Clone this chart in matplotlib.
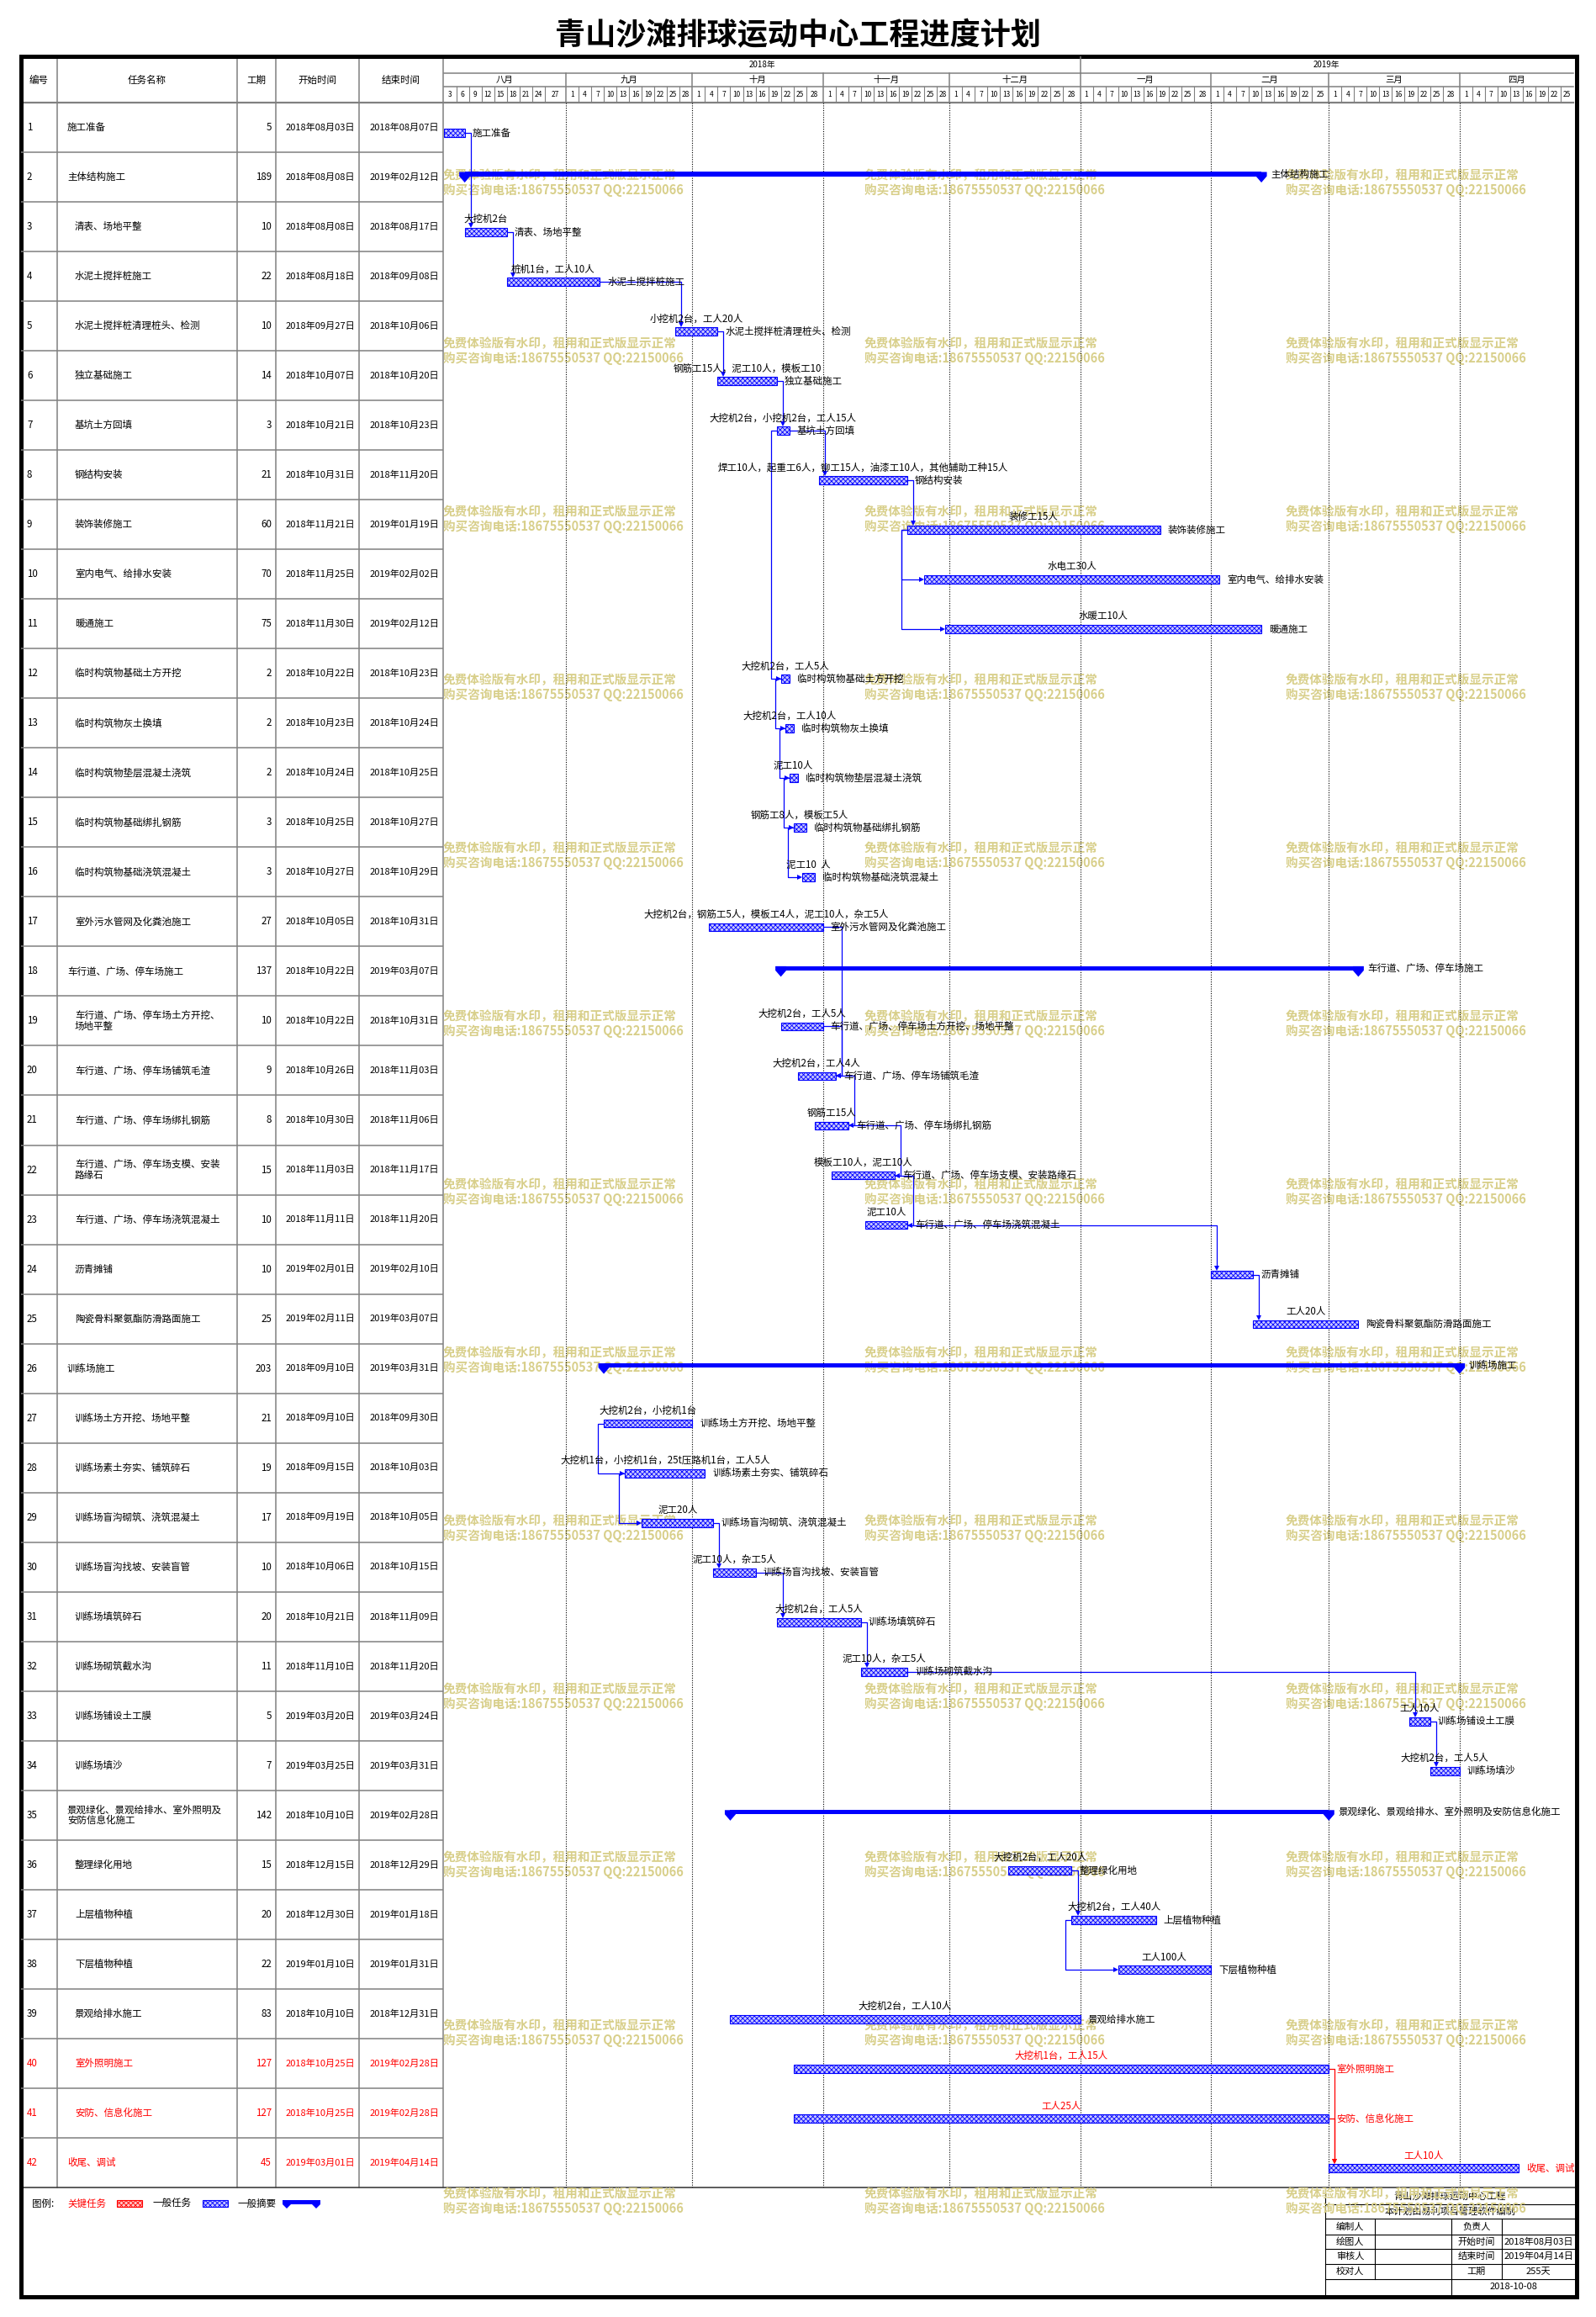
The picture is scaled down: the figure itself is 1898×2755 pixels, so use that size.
import datetime as dt
import calendar
import matplotlib
matplotlib.use("Agg")
import matplotlib.pyplot as plt
import matplotlib.dates as mdates
from matplotlib.patches import Rectangle, Polygon

plt.rcParams["font.family"] = ["Noto Sans CJK SC", "DejaVu Sans"]
plt.rcParams["hatch.linewidth"] = 0.6

W, H, DPI = 1899, 2755, 100

# ---------------- data ----------------
title = "青山沙滩排球运动中心工程进度计划"

task_names = [
    "施工准备", "主体结构施工", "清表、场地平整", "水泥土搅拌桩施工",
    "水泥土搅拌桩清理桩头、检测", "独立基础施工", "基坑土方回填", "钢结构安装",
    "装饰装修施工", "室内电气、给排水安装", "暖通施工", "临时构筑物基础土方开挖",
    "临时构筑物灰土换填", "临时构筑物垫层混凝土浇筑", "临时构筑物基础绑扎钢筋",
    "临时构筑物基础浇筑混凝土", "室外污水管网及化粪池施工", "车行道、广场、停车场施工",
    "车行道、广场、停车场土方开挖、\n场地平整", "车行道、广场、停车场铺筑毛渣",
    "车行道、广场、停车场绑扎钢筋", "车行道、广场、停车场支模、安装\n路缘石",
    "车行道、广场、停车场浇筑混凝土", "沥青摊铺", "陶瓷骨料聚氨酯防滑路面施工",
    "训练场施工", "训练场土方开挖、场地平整", "训练场素土夯实、铺筑碎石",
    "训练场盲沟砌筑、浇筑混凝土", "训练场盲沟找坡、安装盲管", "训练场填筑碎石",
    "训练场砌筑截水沟", "训练场铺设土工膜", "训练场填沙",
    "景观绿化、景观给排水、室外照明及\n安防信息化施工", "整理绿化用地", "上层植物种植",
    "下层植物种植", "景观给排水施工", "室外照明施工", "安防、信息化施工", "收尾、调试",
]

durations = [5, 189, 10, 22, 10, 14, 3, 21, 60, 70, 75, 2, 2, 2, 3, 3, 27, 137, 10, 9, 8,
             15, 10, 10, 25, 203, 21, 19, 17, 10, 20, 11, 5, 7, 142, 15, 20, 22, 83, 127,
             127, 45]

starts = ["2018-08-03", "2018-08-08", "2018-08-08", "2018-08-18", "2018-09-27",
          "2018-10-07", "2018-10-21", "2018-10-31", "2018-11-21", "2018-11-25",
          "2018-11-30", "2018-10-22", "2018-10-23", "2018-10-24", "2018-10-25",
          "2018-10-27", "2018-10-05", "2018-10-22", "2018-10-22", "2018-10-26",
          "2018-10-30", "2018-11-03", "2018-11-11", "2019-02-01", "2019-02-11",
          "2018-09-10", "2018-09-10", "2018-09-15", "2018-09-19", "2018-10-06",
          "2018-10-21", "2018-11-10", "2019-03-20", "2019-03-25", "2018-10-10",
          "2018-12-15", "2018-12-30", "2019-01-10", "2018-10-10", "2018-10-25",
          "2018-10-25", "2019-03-01"]

ends = ["2018-08-07", "2019-02-12", "2018-08-17", "2018-09-08", "2018-10-06",
        "2018-10-20", "2018-10-23", "2018-11-20", "2019-01-19", "2019-02-02",
        "2019-02-12", "2018-10-23", "2018-10-24", "2018-10-25", "2018-10-27",
        "2018-10-29", "2018-10-31", "2019-03-07", "2018-10-31", "2018-11-03",
        "2018-11-06", "2018-11-17", "2018-11-20", "2019-02-10", "2019-03-07",
        "2019-03-31", "2018-09-30", "2018-10-03", "2018-10-05", "2018-10-15",
        "2018-11-09", "2018-11-20", "2019-03-24", "2019-03-31", "2019-02-28",
        "2018-12-29", "2019-01-18", "2019-01-31", "2018-12-31", "2019-02-28",
        "2019-02-28", "2019-04-14"]

resources = ["", "", "大挖机2台", "桩机1台，工人10人", "小挖机2台，工人20人",
             "钢筋工15人，泥工10人，模板工10", "大挖机2台，小挖机2台，工人15人",
             "焊工10人，起重工6人，铆工15人，油漆工10人，其他辅助工种15人",
             "装修工15人", "水电工30人", "水暖工10人", "大挖机2台，工人5人",
             "大挖机2台，工人10人", "泥工10人", "钢筋工8人，模板工5人", "泥工10  人",
             "大挖机2台，钢筋工5人，模板工4人，泥工10人，杂工5人", "",
             "大挖机2台，工人5人", "大挖机2台，工人4人", "钢筋工15人",
             "模板工10人，泥工10人", "泥工10人", "", "工人20人", "",
             "大挖机2台，小挖机1台", "大挖机1台，小挖机1台，25t压路机1台，工人5人",
             "泥工20人", "泥工10人，杂工5人", "大挖机2台，工人5人", "泥工10人，杂工5人",
             "工人10人", "大挖机2台，工人5人", "", "大挖机2台，工人20人",
             "大挖机2台，工人40人", "工人100人", "大挖机2台，工人10人",
             "大挖机1台，工人15人", "工人25人", "工人10人"]

top_level_rows = [1, 2, 18, 26, 35, 42]
summary_rows = [2, 18, 26, 35]
critical_rows = [40, 41, 42]

# (predecessor, successor, type)
links = [(1, 3, "FS"), (3, 4, "FS"), (4, 5, "FS"), (5, 6, "FS"), (6, 7, "FS"),
         (7, 8, "FS"), (8, 9, "FS"), (9, 10, "SS"), (9, 11, "SS"), (7, 12, "SS"),
         (12, 13, "SS"), (13, 14, "SS"), (14, 15, "SS"), (15, 16, "SS"),
         (17, 20, "FF"), (19, 20, "FF"), (20, 21, "FF"), (21, 22, "FF"),
         (22, 23, "FF"), (23, 24, "FS"), (24, 25, "FS"), (27, 28, "SS"),
         (28, 29, "SS"), (29, 30, "FS"), (30, 31, "FS"), (31, 32, "FS"),
         (32, 33, "FS"), (33, 34, "FS"), (36, 37, "FS"), (37, 38, "SS"),
         (40, 42, "FS"), (41, 42, "FS")]

header_cols = ["编号", "任务名称", "工期", "开始时间", "结束时间"]
month_names = ["八月", "九月", "十月", "十一月", "十二月", "一月", "二月", "三月", "四月"]
year_labels = ["2018年", "2019年"]
axis_start, axis_end = "2018-08-03", "2019-04-28"

info_rows = [("编制人", "", "负责人", ""),
             ("绘图人", "", "开始时间", "2018年08月03日"),
             ("审核人", "", "结束时间", "2019年04月14日"),
             ("校对人", "", "工期", "255天")]
print_date = "2018-10-08"
wm1 = "免费体验版有水印，租用和正式版显示正常"
wm2 = "购买咨询电话:18675550537 QQ:22150066"

# ---------------- layout ----------------
FX0, FY0, FX1, FY1 = 25, 67, 1875, 2731
TOP, BOT = 122, 2601
GX0, GX1 = 527.6, 1871
col_x = [25, 68, 282, 328, 427, 527]
GRAY = "#808080"
BLUE = "#0000ff"
RED = "#ff0000"
n = len(task_names)


def dn(s):
    return mdates.date2num(dt.datetime.strptime(s, "%Y-%m-%d"))


def box(x0, y0, x1, y1):
    return [x0 / W, 1 - y1 / H, (x1 - x0) / W, (y1 - y0) / H]


def cn_date(s):
    d = dt.datetime.strptime(s, "%Y-%m-%d")
    return f"{d.year}年{d.month:02d}月{d.day:02d}日"


fig = plt.figure(figsize=(W / DPI, H / DPI), dpi=DPI)
base = fig.add_axes([0, 0, 1, 1])
base.set_xlim(0, W)
base.set_ylim(H, 0)
base.axis("off")

base.text(949, 43, title, ha="center", va="center", fontsize=26, fontweight="bold")
base.add_patch(Rectangle((FX0, FY0), FX1 - FX0, FY1 - FY0, fill=False, lw=3.6,
                         ec="black", zorder=6))

# table header / grid lines
for x in col_x[1:]:
    base.plot([x, x], [FY0, BOT], color=GRAY, lw=1.1, zorder=2)
base.plot([FX0, GX1], [TOP, TOP], color=GRAY, lw=1.6, zorder=2)
base.plot([FX0, FX1], [BOT, BOT], color="#404040", lw=1.2, zorder=2)
for i, lab in enumerate(header_cols):
    base.text((col_x[i] + col_x[i + 1]) / 2, 95, lab, ha="center", va="center",
              fontsize=8.3)

# ---------------- table body ----------------
tax = fig.add_axes(box(FX0, TOP, 527, BOT))
tax.set_xlim(FX0, 527)
tax.set_ylim(n + 0.5, 0.5)
tax.axis("off")
for i in range(n):
    row = i + 1
    c = RED if row in critical_rows else "black"
    if row < n:
        tax.plot([FX0, 527], [row + 0.5, row + 0.5], color=GRAY, lw=1.1)
    tax.text(32, row, str(row), ha="left", va="center", fontsize=8.3, color=c)
    nx = 80 if row in top_level_rows else 89
    tax.text(nx, row, task_names[i], ha="left", va="center", fontsize=8.3, color=c,
             linespacing=1.0)
    tax.text(323, row, str(durations[i]), ha="right", va="center", fontsize=8.3, color=c)
    tax.text(381, row, cn_date(starts[i]), ha="center", va="center", fontsize=8.0, color=c)
    tax.text(481, row, cn_date(ends[i]), ha="center", va="center", fontsize=8.0, color=c)

# ---------------- timeline header ----------------
d0, d1 = dn(axis_start), dn(axis_end)
hax = fig.add_axes(box(GX0, FY0, GX1, TOP))
hax.set_xlim(d0, d1)
hax.set_ylim(TOP, FY0)
hax.axis("off")
hax.plot([d0, d1], [87, 87], color=GRAY, lw=1.1, clip_on=False)
hax.plot([d0, d1], [103, 103], color=GRAY, lw=1.1, clip_on=False)

month_firsts = []
y, m = 2018, 8
for _ in month_names:
    month_firsts.append(dt.date(y, m, 1))
    m += 1
    if m > 12:
        y, m = y + 1, 1
jan = mdates.date2num(dt.datetime(2019, 1, 1))
hax.plot([jan, jan], [FY0, 87], color=GRAY, lw=1.1)
hax.text((d0 + jan) / 2, 77, year_labels[0], ha="center", va="center", fontsize=7)
hax.text((jan + d1) / 2, 77, year_labels[1], ha="center", va="center", fontsize=7)

for k, mf in enumerate(month_firsts):
    mlen = calendar.monthrange(mf.year, mf.month)[1]
    ms = max(mdates.date2num(dt.datetime(mf.year, mf.month, 1)), d0)
    me = min(mdates.date2num(dt.datetime(mf.year, mf.month, 1)) + mlen, d1)
    if k > 0:
        hax.plot([ms, ms], [87, TOP], color=GRAY, lw=1.1)
    hax.text((ms + me) / 2, 95, month_names[k], ha="center", va="center", fontsize=7.5)
    first = 3 if k == 0 else 1
    days = [dd for dd in range(first, mlen + 1, 3) if dd + 2 <= mlen]
    base_num = mdates.date2num(dt.datetime(mf.year, mf.month, 1)) - 1
    for j, dd in enumerate(days):
        cs = base_num + dd
        ce = base_num + days[j + 1] if j + 1 < len(days) else me
        ce = min(ce, d1)
        if cs >= d1:
            break
        if j > 0:
            hax.plot([cs, cs], [103, TOP], color=GRAY, lw=0.8)
        hax.text((cs + ce) / 2, 112.5, str(dd), ha="center", va="center", fontsize=6)

# ---------------- watermarks ----------------
for wy in range(208, 2620, 200):
    for wx in [527, 1028, 1529]:
        base.text(wx, wy, wm1, ha="left", va="center", fontsize=10.5,
                  fontweight="bold", color="#d8cf8a", zorder=5)
        base.text(wx, wy + 17.5, wm2, ha="left", va="center", fontsize=10.5,
                  fontweight="bold", color="#d8cf8a", zorder=5)

# ---------------- gantt body ----------------
gax = fig.add_axes(box(GX0, TOP, GX1, BOT))
gax.set_xlim(d0, d1)
gax.set_ylim(n + 0.5, 0.5)
gax.axis("off")

for mf in month_firsts[1:]:
    gax.axvline(mdates.date2num(dt.datetime(mf.year, mf.month, 1)), color="black",
                lw=0.8, ls=(0, (1, 1.5)), zorder=1)

x_start = [dn(s) for s in starts]
x_end = [dn(e) + 1 for e in ends]
BAR_DY, BAR_H = 0.11, 0.165
SUM_DY, SUM_H = -0.06, 0.085
DX = 1.4

for i in range(n):
    row = i + 1
    xs, xe = x_start[i], x_end[i]
    c = RED if row in critical_rows else "black"
    label = task_names[i].replace("\n", "")
    if row in summary_rows:
        yb = row + SUM_DY
        gax.add_patch(Rectangle((xs, yb - SUM_H / 2), xe - xs, SUM_H, color=BLUE, lw=0,
                                zorder=4))
        for xx in (xs, xe):
            gax.add_patch(Polygon([(xx - 1.3, yb - SUM_H / 2), (xx + 1.3, yb - SUM_H / 2),
                                   (xx + 1.3, yb + SUM_H / 2), (xx, yb + 0.17),
                                   (xx - 1.3, yb + SUM_H / 2)],
                                  closed=True, color=BLUE, lw=0, zorder=4))
        gax.text(xe + 2.2, yb, label, ha="left", va="center", fontsize=8.3, color=c,
                 zorder=6)
    else:
        yb = row + BAR_DY
        gax.add_patch(Rectangle((xs, yb - BAR_H / 2), xe - xs, BAR_H, facecolor="#c8c8ff",
                                edgecolor=BLUE, hatch="xxxxxx", lw=0.8, zorder=4))
        gax.text(xe + 1.8, yb, label, ha="left", va="center", fontsize=8.3, color=c,
                 zorder=6, clip_on=False)
        if resources[i]:
            gax.text((xs + xe) / 2, yb - 0.26, resources[i], ha="center", va="center",
                     fontsize=8.3, color=c, zorder=6)

for p, s, kind in links:
    col = RED if s in critical_rows else BLUE
    ps, pe = x_start[p - 1], x_end[p - 1]
    ss, se = x_start[s - 1], x_end[s - 1]
    yp, ys = p + BAR_DY, s + BAR_DY
    if kind == "FS":
        xt = max(pe, ss) + DX
        ytip = ys - BAR_H / 2
        gax.plot([pe, xt, xt], [yp, yp, ytip - 0.05], color=col, lw=0.9, zorder=3)
        gax.plot(xt, ytip - 0.05, marker="v", ms=4.5, color=col, mew=0, zorder=5)
    elif kind == "SS":
        xt = min(ps, ss) - DX
        gax.plot([ps, xt, xt, ss - 0.6], [yp, yp, ys, ys], color=col, lw=0.9, zorder=3)
        gax.plot(ss - 0.6, ys, marker=">", ms=4.5, color=col, mew=0, zorder=5)
    else:
        xt = max(pe, se) + DX
        gax.plot([pe, xt, xt, se + 0.6], [yp, yp, ys, ys], color=col, lw=0.9, zorder=3)
        gax.plot(se + 0.6, ys, marker="<", ms=4.5, color=col, mew=0, zorder=5)

# ---------------- legend ----------------
LY = 2620
base.text(38, LY, "图例:", ha="left", va="center", fontsize=8.3)
base.text(80, LY, "关键任务", ha="left", va="center", fontsize=8.3, color=RED)
base.add_patch(Rectangle((139, LY - 4), 30, 8, facecolor="#ffc8c8", edgecolor=RED,
                         hatch="xxxxxx", lw=0.8))
base.text(182, LY, "一般任务", ha="left", va="center", fontsize=8.3)
base.add_patch(Rectangle((241, LY - 4), 30, 8, facecolor="#c8c8ff", edgecolor=BLUE,
                         hatch="xxxxxx", lw=0.8))
base.text(283, LY, "一般摘要", ha="left", va="center", fontsize=8.3)
base.add_patch(Rectangle((337, LY - 4), 43, 5, color=BLUE, lw=0))
for xx in (341, 376):
    base.add_patch(Polygon([(xx - 5, LY - 4), (xx + 5, LY - 4), (xx + 5, LY + 1),
                            (xx, LY + 6), (xx - 5, LY + 1)], closed=True, color=BLUE,
                           lw=0))

# ---------------- info box ----------------
BX = [1576, 1635, 1726, 1786, 1873]
BY = [2602, 2621, 2638, 2657, 2674, 2692, 2710, 2729]
base.plot([BX[0], BX[0]], [BY[0], BY[-1]], color="black", lw=0.8, zorder=3)
for yy in BY[1:-1]:
    base.plot([BX[0], BX[-1]], [yy, yy], color="black", lw=0.8, zorder=3)
for xx in BX[1:4]:
    base.plot([xx, xx], [BY[2], BY[6]], color="black", lw=0.8, zorder=3)
base.plot([BX[2], BX[2]], [BY[6], BY[7]], color="black", lw=0.8, zorder=3)
base.text((BX[0] + BX[-1]) / 2, (BY[0] + BY[1]) / 2, "青山沙滩排球运动中心工程",
          ha="center", va="center", fontsize=8, zorder=3)
base.text((BX[0] + BX[-1]) / 2, (BY[1] + BY[2]) / 2, "本计划由易利项目管理软件编制",
          ha="center", va="center", fontsize=8, zorder=3)
for r, cells in enumerate(info_rows):
    yc = (BY[r + 2] + BY[r + 3]) / 2
    for k, txt in enumerate(cells):
        base.text((BX[k] + BX[k + 1]) / 2, yc, txt, ha="center", va="center",
                  fontsize=8, zorder=3)
base.text((BX[2] + BX[-1]) / 2, (BY[6] + BY[7]) / 2, print_date, ha="center",
          va="center", fontsize=8, zorder=3)

fig.savefig("out.png", dpi=DPI)
